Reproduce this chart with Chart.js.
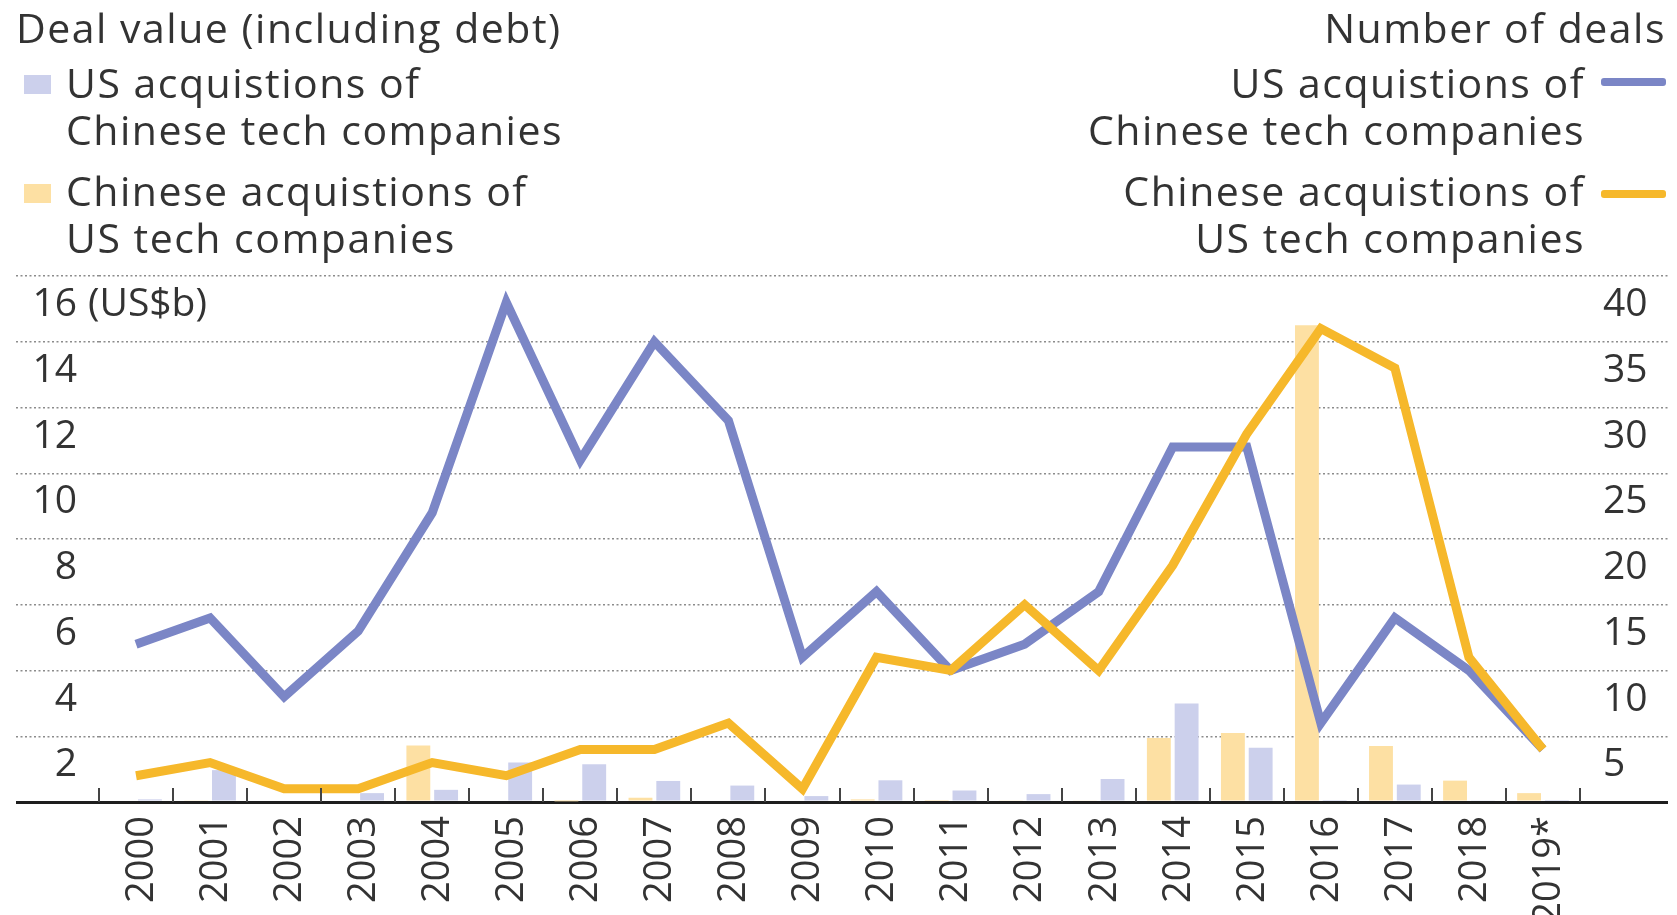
<!DOCTYPE html>
<html>
<head>
<meta charset="utf-8">
<title>US-China tech deals</title>
<script src="https://cdn.jsdelivr.net/npm/chart.js@4.4.1/dist/chart.umd.min.js"></script>
<style>
  body { margin: 0; background: #fff; }
  #wrap { position: relative; width: 1677px; height: 915px; font-family: 'Open Sans', sans-serif; color: #333; }
  #wrap canvas { position: absolute; left: 0; top: 0; }
  .txt { position: absolute; font-size: 41px; line-height: 47px; letter-spacing: 1.5px; white-space: nowrap; }
  .right { text-align: right; }
  .sq { position: absolute; width: 27px; height: 19px; }
  .ln { position: absolute; width: 65px; height: 8px; border-radius: 3px; }
</style>
</head>
<body>
<div id="wrap">
  <canvas id="deals"></canvas>
  <div class="txt" style="left:16px; top:4px;">Deal value (including debt)</div>
  <div class="sq" style="left:24px; top:75px; background:#ccd0ec;"></div>
  <div class="txt" style="left:66px; top:59px;">US acquistions of<br>Chinese tech companies</div>
  <div class="sq" style="left:24px; top:184px; background:#fde0a3;"></div>
  <div class="txt" style="left:66px; top:167px;">Chinese acquistions of<br>US tech companies</div>

  <div class="txt right" style="right:11px; top:4px;">Number of deals</div>
  <div class="txt right" style="right:92px; top:59px;">US acquistions of<br>Chinese tech companies</div>
  <div class="ln" style="left:1601px; top:78px; background:#7b86c6;"></div>
  <div class="txt right" style="right:92px; top:167px;">Chinese acquistions of<br>US tech companies</div>
  <div class="ln" style="left:1601px; top:190px; background:#f6b82b;"></div>
</div>
<script>
"use strict";
// years on the x axis (2019 is partial)
const years = ['2000', '2001', '2002', '2003', '2004', '2005', '2006', '2007', '2008', '2009',
    '2010', '2011', '2012', '2013', '2014', '2015', '2016', '2017', '2018', '2019*'];

// deal value, US$b (bars, left axis)
const usBuysChinaValue = [0.08, 0.97, 0, 0.27, 0.37, 1.2, 1.15, 0.64, 0.5, 0.18,
    0.66, 0.35, 0.24, 0.7, 3.0, 1.65, 0.03, 0.53, 0.04, 0.03];
const chinaBuysUsValue = [0, 0.04, 0, 0, 1.72, 0, 0.02, 0.13, 0, 0,
    0.08, 0.06, 0.04, 0.05, 1.95, 2.1, 14.5, 1.7, 0.65, 0.27];

// number of deals (lines, right axis)
const usBuysChinaCount = [12, 14, 8, 13, 22, 38, 26, 35, 29, 11,
    16, 10, 12, 16, 27, 27, 6, 14, 10, 4];
const chinaBuysUsCount = [2, 3, 1, 1, 3, 2, 4, 4, 6, 1,
    11, 10, 15, 10, 18, 28, 36, 33, 11, 4];

// axis ranges
const valueAxis = { max: 16, step: 2, unit: '(US$b)' };
const countAxis = { max: 40, step: 5 };

const BLUE_LINE = '#7b86c6';
const GOLD_LINE = '#f6b82b';
const BLUE_BAR = '#ccd0ec';
const GOLD_BAR = '#fde0a3';

Chart.defaults.font.family = "'Open Sans', sans-serif";
Chart.defaults.font.size = 39;
Chart.defaults.color = '#333';

function isZero(ctx) {
    return ctx && ctx.tick && ctx.tick.value === 0;
}
const gridColor = (ctx) => isZero(ctx) ? '#1e1e1e' : '#8c8c8c';
const gridWidth = (ctx) => isZero(ctx) ? 3 : 1.4;
const gridDash = (ctx) => isZero(ctx) ? [] : [2, 2.5];

/**
 * Small upward tick marks between the years, and the unit next to the top label.
 */
const axisExtras = {
    id: 'axisExtras',
    afterDatasetsDraw(chart) {
        const ctx = chart.ctx;
        const x = chart.scales.x;
        const y = chart.scales.y;
        const base = y.getPixelForValue(0);
        const half = (x.getPixelForValue(1) - x.getPixelForValue(0)) / 2;
        ctx.save();
        ctx.strokeStyle = '#444';
        ctx.lineWidth = 2;
        for (let i = 0; i <= years.length; i++) {
            let px = Math.round(x.getPixelForValue(i) - half);
            ctx.beginPath();
            ctx.moveTo(px, base);
            ctx.lineTo(px, base - 14);
            ctx.stroke();
        }
        // unit label after "16"
        const t = y.options.ticks;
        const lx = y.right - (y.options.grid.tickLength + t.padding);
        const ly = y.getPixelForValue(valueAxis.max) + t.labelOffset;
        ctx.font = "39px 'Open Sans'";
        ctx.fillStyle = '#333';
        ctx.textAlign = 'left';
        ctx.textBaseline = 'middle';
        ctx.fillText(valueAxis.unit, lx + 11, ly);
        ctx.restore();
    }
};

let dealsChart = new Chart(document.getElementById('deals'), {
    type: 'bar',
    data: {
        labels: years,
        datasets: [{
            type: 'line',
            label: 'Chinese acquistions of US tech companies (deals)',
            data: chinaBuysUsCount,
            yAxisID: 'y2',
            borderColor: GOLD_LINE,
            borderWidth: 9,
            pointRadius: 0,
            tension: 0,
            order: 0
        }, {
            type: 'line',
            label: 'US acquistions of Chinese tech companies (deals)',
            data: usBuysChinaCount,
            yAxisID: 'y2',
            borderColor: BLUE_LINE,
            borderWidth: 9,
            pointRadius: 0,
            tension: 0,
            order: 1
        }, {
            label: 'Chinese acquistions of US tech companies',
            data: chinaBuysUsValue,
            yAxisID: 'y',
            backgroundColor: GOLD_BAR,
            categoryPercentage: 0.75,
            barPercentage: 0.86,
            order: 2
        }, {
            label: 'US acquistions of Chinese tech companies',
            data: usBuysChinaValue,
            yAxisID: 'y',
            backgroundColor: BLUE_BAR,
            categoryPercentage: 0.75,
            barPercentage: 0.86,
            order: 3
        }]
    },
    options: {
        responsive: true,
        maintainAspectRatio: false,
        animation: false,
        layout: { padding: { top: 276, left: 16, right: 9, bottom: 0 } },
        plugins: {
            legend: { display: false },
            tooltip: { enabled: false }
        },
        scales: {
            x: {
                offset: true,
                grid: { display: false },
                border: { display: false },
                ticks: {
                    minRotation: 90,
                    maxRotation: 90,
                    autoSkip: false,
                    padding: 6,
                    labelOffset: 6,
                    font: { size: 38 }
                },
                afterFit: (scale) => { scale.height = 113; }
            },
            y: {
                position: 'left',
                min: 0,
                max: valueAxis.max,
                grid: {
                    color: gridColor,
                    lineWidth: gridWidth,
                    tickBorderDash: gridDash,
                    drawTicks: true,
                    tickLength: 83
                },
                border: { display: false, dash: gridDash },
                ticks: {
                    stepSize: valueAxis.step,
                    padding: -61,
                    labelOffset: 29,
                    crossAlign: 'near',
                    callback: (v) => v === 0 ? '' : v
                },
                afterFit: (scale) => { scale.width = 83; }
            },
            y2: {
                position: 'right',
                min: 0,
                max: countAxis.max,
                grid: {
                    drawOnChartArea: false,
                    color: gridColor,
                    lineWidth: gridWidth,
                    tickBorderDash: gridDash,
                    drawTicks: true,
                    tickLength: 88
                },
                border: { display: false, dash: gridDash },
                ticks: {
                    stepSize: countAxis.step,
                    padding: -65,
                    labelOffset: 29,
                    crossAlign: 'near',
                    callback: (v) => v === 0 ? '' : v
                },
                afterFit: (scale) => { scale.width = 88; }
            }
        }
    },
    plugins: [axisExtras]
});
</script>
</body>
</html>
